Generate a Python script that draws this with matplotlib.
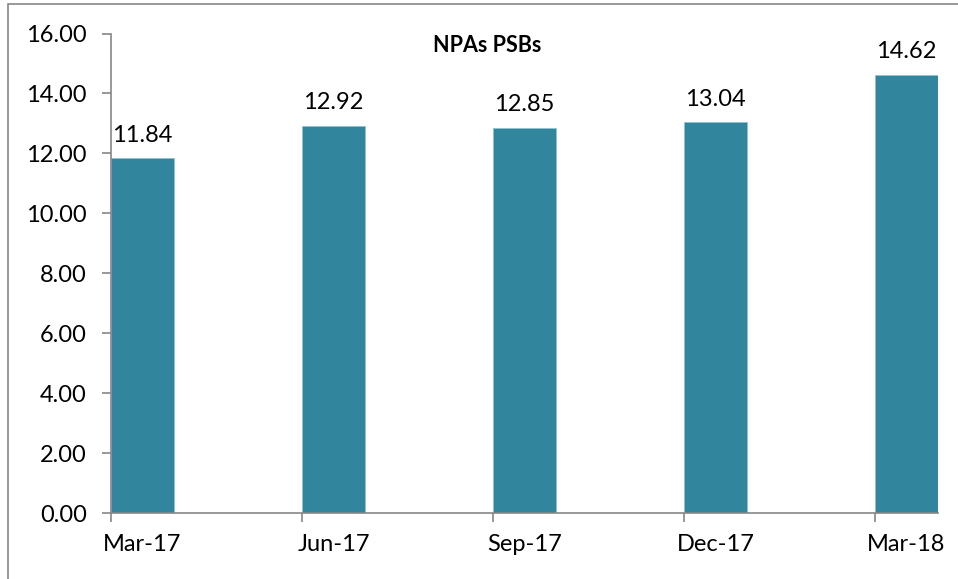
import numpy as np
import matplotlib.pyplot as plt
from matplotlib.patches import Rectangle

quarters = ["Mar-17", "Jun-17", "Sep-17", "Dec-17", "Mar-18"]
npa_values = [11.84, 12.92, 12.85, 13.04, 14.62]
y_ticks = [0, 2, 4, 6, 8, 10, 12, 14, 16]

bar_color = "#31859C"
axis_gray = "#868686"
font = "Lato"

fig = plt.figure(figsize=(9.58, 5.79), dpi=100)
ax = fig.add_axes([111 / 958, 66 / 579, (938 - 111) / 958, (513 - 33.5) / 579])

x = np.arange(len(quarters))
width = 0.33
bars = ax.bar(x, npa_values, width=width, align="edge", color=bar_color,
              edgecolor="#8fc3d1", linewidth=0.6)

for b, v in zip(bars, npa_values):
    ax.annotate(f"{v:.2f}", (b.get_x() + b.get_width() / 2, v),
                xytext=(0, 9), textcoords="offset points",
                ha="center", va="bottom", fontsize=17, family=font)

ax.set_xlim(0, len(quarters) - 1 + width)
ax.set_ylim(0, 16)
ax.set_yticks(y_ticks)
ax.set_yticklabels([f"{t:.2f}" for t in y_ticks], fontsize=17, family=font)

# date-axis look: ticks at bar left edges, labels under bar centres
ax.set_xticks(x)
ax.set_xticklabels([])
ax.set_xticks(x + width / 2, minor=True)
ax.set_xticklabels(quarters, minor=True, fontsize=17, family=font)

for s in ["top", "right"]:
    ax.spines[s].set_visible(False)
for s in ["left", "bottom"]:
    ax.spines[s].set_color(axis_gray)
    ax.spines[s].set_linewidth(1.2)
ax.tick_params(axis="both", which="major", direction="out", length=6.5, width=1.2, color=axis_gray)
ax.tick_params(axis="x", which="minor", length=0, pad=15)
ax.tick_params(axis="y", pad=11)

fig.text(487 / 958, 1 - 45 / 579, "NPAs PSBs", ha="center", va="center",
         fontsize=15.5, fontweight="bold", family=font)

# outer chart border (only top and left edges fall inside the image)
fig.patches.append(Rectangle((8 / 958, -0.1), 1.2, 1 - 4 / 579 + 0.1,
                             transform=fig.transFigure, fill=False,
                             edgecolor=axis_gray, linewidth=1.2))

fig.savefig("out.png", dpi=100)
